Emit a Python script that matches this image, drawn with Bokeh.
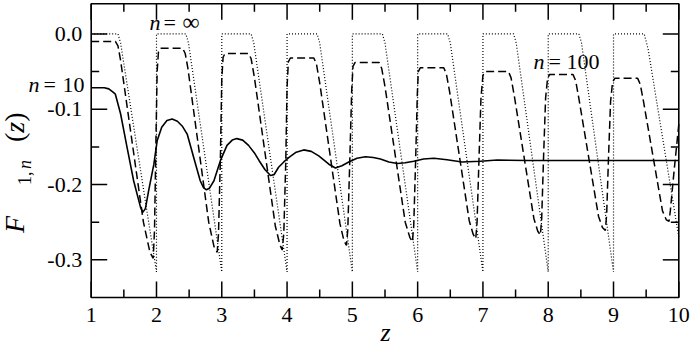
import math
from bokeh.plotting import figure
from bokeh.models import Label, Range1d, Div
from bokeh.layouts import column
from bokeh.embed import file_html
from bokeh.resources import INLINE
from bokeh.core.properties import value

# ---------------- data ----------------
x_lo, x_hi = 1, 10
y_lo, y_hi = -0.35, 0.04
x_ticks = [1, 2, 3, 4, 5, 6, 7, 8, 9, 10]
x_tick_labels = ["1", "2", "3", "4", "5", "6", "7", "8", "9", "10"]
x_minor = [1.5, 2.5, 3.5, 4.5, 5.5, 6.5, 7.5, 8.5, 9.5]
y_ticks = [-0.3, -0.2, -0.1, 0.0]
y_tick_labels = ["-0.3", "-0.2", "-0.1", "0.0"]
y_minor = [-0.25, -0.15, -0.05]

# n = infinity (dotted)
x_inf = [1.00, 1.41, 1.45, 2.00, 2.00, 2.45, 2.49, 3.00, 3.00, 3.45, 3.49, 4.00,
         4.00, 4.46, 4.50, 5.00, 5.00, 5.46, 5.50, 6.00, 6.00, 6.46, 6.50, 7.00,
         7.00, 7.47, 7.51, 8.00, 8.00, 8.47, 8.51, 9.00, 9.00, 9.47, 9.53, 10.00]
y_inf = [0.000, 0.000, -0.012, -0.316, 0.000, 0.000, -0.012, -0.316, 0.000, 0.000, -0.012, -0.316,
         0.000, 0.000, -0.012, -0.316, 0.000, 0.000, -0.012, -0.316, 0.000, 0.000, -0.012, -0.316,
         0.000, 0.000, -0.012, -0.316, 0.000, 0.000, -0.012, -0.316, 0.000, 0.000, -0.020, -0.270]

# n = 100 (dashed)
x_100 = [1.00, 1.37, 1.41, 1.45, 1.80, 1.90, 1.95,
         1.97, 1.99, 2.01, 2.03, 2.06, 2.40, 2.44, 2.48, 2.80, 2.88, 2.93,
         2.95, 2.98, 3.00, 3.02, 3.05, 3.41, 3.45, 3.50, 3.82, 3.89, 3.925,
         3.95, 3.98, 4.00, 4.02, 4.05, 4.41, 4.45, 4.50, 4.81, 4.87, 4.91,
         4.93, 4.96, 4.99, 5.01, 5.04, 5.41, 5.45, 5.50, 5.81, 5.88, 5.92,
         5.94, 5.97, 5.995, 6.01, 6.04, 6.40, 6.44, 6.49, 6.79, 6.85, 6.89,
         6.91, 6.94, 6.97, 7.00, 7.03, 7.39, 7.43, 7.48, 7.78, 7.84, 7.88,
         7.90, 7.93, 7.96, 7.99, 8.02, 8.38, 8.42, 8.47, 8.77, 8.83, 8.875,
         8.895, 8.925, 8.955, 8.985, 9.02, 9.37, 9.41, 9.46, 9.75, 9.81, 9.85,
         9.87, 9.93, 10.00]
y_100 = [-0.010, -0.010, -0.016, -0.035, -0.250, -0.290, -0.298,
         -0.260, -0.150, -0.050, -0.024, -0.019, -0.019, -0.026, -0.045, -0.250, -0.282, -0.290,
         -0.265, -0.160, -0.060, -0.031, -0.026, -0.026, -0.033, -0.058, -0.255, -0.280, -0.287,
         -0.265, -0.170, -0.070, -0.037, -0.032, -0.032, -0.040, -0.065, -0.252, -0.274, -0.281,
         -0.260, -0.170, -0.075, -0.043, -0.038, -0.038, -0.046, -0.070, -0.250, -0.270, -0.276,
         -0.255, -0.165, -0.080, -0.050, -0.045, -0.045, -0.053, -0.077, -0.248, -0.266, -0.272,
         -0.250, -0.165, -0.085, -0.055, -0.050, -0.050, -0.058, -0.082, -0.245, -0.262, -0.267,
         -0.245, -0.160, -0.085, -0.059, -0.054, -0.054, -0.062, -0.086, -0.242, -0.257, -0.261,
         -0.240, -0.160, -0.090, -0.064, -0.059, -0.059, -0.067, -0.090, -0.235, -0.247, -0.249,
         -0.235, -0.180, -0.120]

# n = 10 (solid)
x_10 = [1.00, 1.20, 1.27, 1.33, 1.37, 1.45, 1.55, 1.65, 1.755, 1.79, 1.83, 1.88, 1.96, 2.01,
        2.08, 2.16, 2.24, 2.32, 2.40, 2.47, 2.57, 2.67, 2.72, 2.765, 2.81, 2.88, 2.98, 3.08,
        3.16, 3.23, 3.32, 3.41, 3.50, 3.57, 3.66, 3.745, 3.80, 3.87, 3.95, 4.03, 4.14, 4.255,
        4.37, 4.485, 4.57, 4.64, 4.74, 4.84, 4.945, 5.07, 5.20, 5.32, 5.43, 5.56, 5.69, 5.81,
        5.94, 6.09, 6.25, 6.45, 6.68, 6.96, 7.22, 7.68, 8.20, 8.80, 9.40, 10.00]
y_10 = [-0.0715, -0.0715, -0.073, -0.077, -0.080, -0.106, -0.151, -0.195, -0.230, -0.237, -0.232, -0.208, -0.173, -0.142,
        -0.124, -0.115, -0.113, -0.116, -0.123, -0.133, -0.164, -0.195, -0.204, -0.207, -0.205, -0.195, -0.168, -0.148,
        -0.141, -0.139, -0.141, -0.148, -0.158, -0.168, -0.180, -0.188, -0.187, -0.177, -0.170, -0.164, -0.157, -0.154,
        -0.156, -0.162, -0.168, -0.173, -0.178, -0.175, -0.170, -0.165, -0.163, -0.164, -0.166, -0.170, -0.172, -0.171,
        -0.169, -0.166, -0.165, -0.167, -0.170, -0.169, -0.1675, -0.168, -0.168, -0.168, -0.168, -0.168]

FONT = "Liberation Serif"

# ---------------- layout (pixels inside the figure) ----------------
W, H = 692, 348
FL, FR, FT, FB = 90.7, 678.3, 3.3, 297.0          # where the data box sits
kx = (FR - FL) / (x_hi - x_lo)
ky = (FB - FT) / (y_hi - y_lo)
xr = Range1d(x_lo - FL / kx, x_hi + (W - FR) / kx)
yr = Range1d(y_lo - (H - FB) / ky, y_hi + FT / ky)


def px2x(px):
    return xr.start + px / kx


def px2y(py):
    return yr.end - py / ky


p = figure(width=W, height=H, output_backend="svg", toolbar_location=None,
           x_range=xr, y_range=yr,
           x_axis_location=None, y_axis_location=None, min_border=0)
p.xgrid.grid_line_color = None
p.ygrid.grid_line_color = None
p.outline_line_color = None
p.background_fill_color = "white"
p.border_fill_color = "white"

# curves
p.line(x_inf, y_inf, line_color="black", line_width=1.2, line_dash="1 2")
p.line(x_100, y_100, line_color="black", line_width=1.5, line_dash="8 4")
p.line(x_10, y_10, line_color="black", line_width=1.6)

# box
p.quad(left=[x_lo], right=[x_hi], bottom=[y_lo], top=[y_hi],
       fill_color=None, line_color="black", line_width=1.6)

# ticks pointing inward, on all four sides
nx, nxm, ny, nym = len(x_ticks), len(x_minor), len(y_ticks), len(y_minor)
TK = dict(line_color="black", line_width=1.5, length_units="screen")
p.ray(x=x_ticks, y=[y_lo] * nx, length=16, angle=math.pi / 2, **TK)
p.ray(x=x_ticks, y=[y_hi] * nx, length=16, angle=-math.pi / 2, **TK)
p.ray(x=x_minor, y=[y_lo] * nxm, length=8, angle=math.pi / 2, **TK)
p.ray(x=x_minor, y=[y_hi] * nxm, length=8, angle=-math.pi / 2, **TK)
p.ray(x=[x_lo] * ny, y=y_ticks, length=16, angle=0, **TK)
p.ray(x=[x_hi] * ny, y=y_ticks, length=16, angle=math.pi, **TK)
p.ray(x=[x_lo] * nym, y=y_minor, length=8, angle=0, **TK)
p.ray(x=[x_hi] * nym, y=y_minor, length=8, angle=math.pi, **TK)

# tick labels
TFS = "22px"
p.text(x=x_ticks, y=[y_lo] * nx, text=x_tick_labels, y_offset=17,
       text_font=value(FONT), text_font_size=value(TFS), text_color="black",
       text_align="center", text_baseline="middle")
p.text(x=[x_lo] * ny, y=y_ticks, text=y_tick_labels, x_offset=-9,
       text_font=value(FONT), text_font_size=value(TFS), text_color="black",
       text_align="right", text_baseline="middle")


def lab(text, px, py, size="22px", style="normal", align="left"):
    p.add_layout(Label(text=text, x=px2x(px), y=px2y(py),
                       text_font=FONT, text_font_size=size,
                       text_font_style=style, text_color="black", text_align=align,
                       text_baseline="middle"))


# curve labels (page pixel anchors)
lab("n", 149, 21.5, style="italic")
lab("=", 163, 21.5)
lab("∞", 182, 21.5, size="24px")
lab("n", 28, 84, style="italic")
lab("=", 43, 84)
lab("10", 62, 84)
lab("n", 533, 61, style="italic")
lab("=", 548, 61)
lab("100", 566, 61)

# x axis title
lab("z", 385, 332, size="26px", style="italic", align="center")

# y axis title F_{1,n}(z): rotated HTML text laid over the figure.
# pieces: text, distance along the label from its bottom end, baseline x, size, italic
ylab_text = ["F", "1,", "n", "(", "z", ")"]
ylab_along = [0, 48, 64, 91, 100.3, 111.2]
ylab_base = [24, 31, 31, 24, 24, 24]
ylab_size = [28, 18, 18, 28, 28, 28]
ylab_ital = [True, False, True, False, True, False]
YLAB_BOTTOM = 233
spans = []
for t, u, b, s, it in zip(ylab_text, ylab_along, ylab_base, ylab_size, ylab_ital):
    spans.append(
        f'<span style="position:absolute;left:{u}px;top:{b - 0.8375 * s:.2f}px;'
        f'font-size:{s}px;line-height:{s}px;font-style:{"italic" if it else "normal"};">{t}</span>')
html = (f'<div style="position:absolute;left:0px;top:{YLAB_BOTTOM}px;width:0px;height:0px;'
        f'transform:rotate(-90deg);transform-origin:0 0;font-family:\'{FONT}\';'
        f'color:black;white-space:nowrap;">' + "".join(spans) + "</div>")
ylabel = Div(text=html, width=40, height=H, margin=0,
             styles={"position": "absolute", "left": "0px", "top": "0px", "z-index": "10"})

layout = column(p, ylabel, spacing=0)
open("out.html", "w").write(file_html(layout, INLINE))
